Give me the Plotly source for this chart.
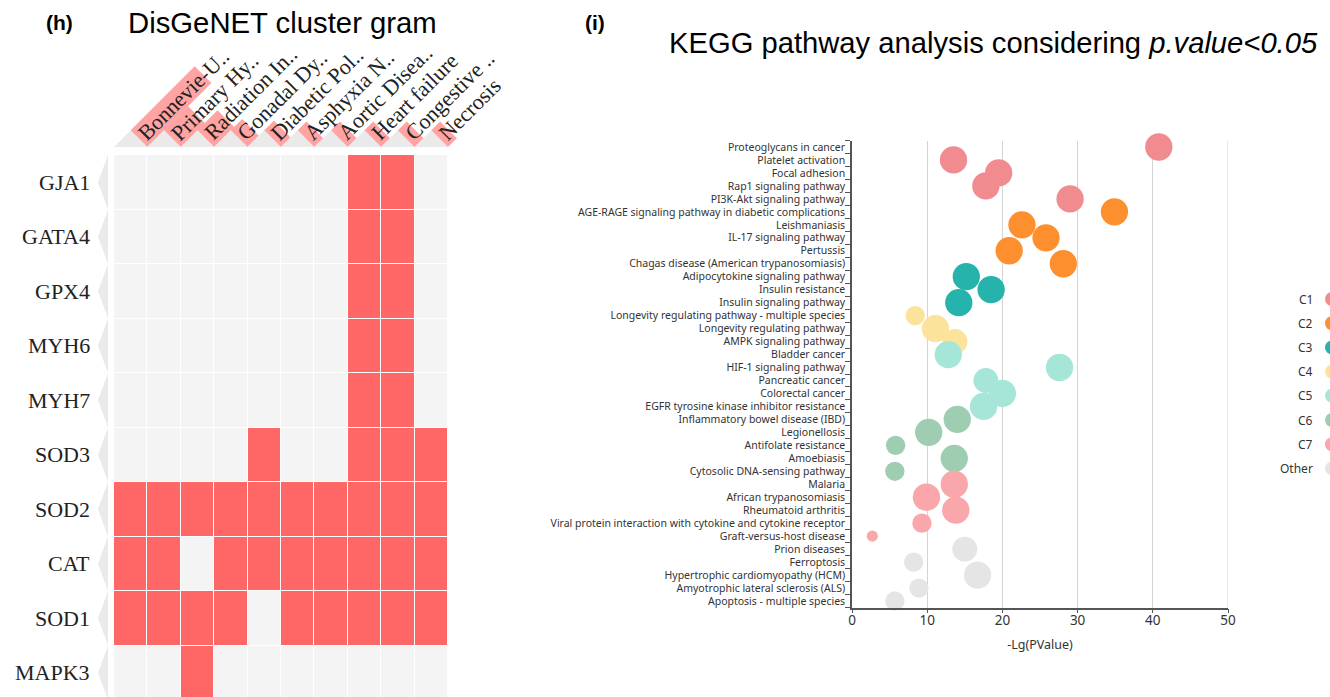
import math
import plotly.graph_objects as go

W, H = 1330, 697


def X(px):
    return px / W


def Y(py):
    return 1 - py / H


# ---------------- Left panel data (DisGeNET cluster gram) ----------------
genes = ["GJA1", "GATA4", "GPX4", "MYH6", "MYH7", "SOD3", "SOD2", "CAT", "SOD1", "MAPK3"]
diseases = ["Bonnevie-U..", "Primary Hy..", "Radiation In..", "Gonadal Dy..", "Diabetic Pol..",
            "Asphyxia N..", "Aortic Disea..", "Heart failure", "Congestive ..", "Necrosis"]
disease_scores = [8.0, 3.0, 2.5, 1.4, 1.2, 1.1, 1.1, 1.1, 1.1, 1.1]
gene_disease = [
    [0, 0, 0, 0, 0, 0, 0, 1, 1, 0],
    [0, 0, 0, 0, 0, 0, 0, 1, 1, 0],
    [0, 0, 0, 0, 0, 0, 0, 1, 1, 0],
    [0, 0, 0, 0, 0, 0, 0, 1, 1, 0],
    [0, 0, 0, 0, 0, 0, 0, 1, 1, 0],
    [0, 0, 0, 0, 1, 0, 0, 1, 1, 1],
    [1, 1, 1, 1, 1, 1, 1, 1, 1, 1],
    [1, 1, 0, 1, 1, 1, 1, 1, 1, 1],
    [1, 1, 1, 1, 0, 1, 1, 1, 1, 1],
    [0, 0, 1, 0, 0, 0, 0, 0, 0, 0],
]

# ---------------- Right panel data (KEGG bubble chart) ----------------
pathways = [
    "Proteoglycans in cancer", "Platelet activation", "Focal adhesion", "Rap1 signaling pathway",
    "PI3K-Akt signaling pathway", "AGE-RAGE signaling pathway in diabetic complications",
    "Leishmaniasis", "IL-17 signaling pathway", "Pertussis", "Chagas disease (American trypanosomiasis)",
    "Adipocytokine signaling pathway", "Insulin resistance", "Insulin signaling pathway",
    "Longevity regulating pathway - multiple species", "Longevity regulating pathway",
    "AMPK signaling pathway", "Bladder cancer", "HIF-1 signaling pathway", "Pancreatic cancer",
    "Colorectal cancer", "EGFR tyrosine kinase inhibitor resistance", "Inflammatory bowel disease (IBD)",
    "Legionellosis", "Antifolate resistance", "Amoebiasis", "Cytosolic DNA-sensing pathway", "Malaria",
    "African trypanosomiasis", "Rheumatoid arthritis",
    "Viral protein interaction with cytokine and cytokine receptor", "Graft-versus-host disease",
    "Prion diseases", "Ferroptosis", "Hypertrophic cardiomyopathy (HCM)",
    "Amyotrophic lateral sclerosis (ALS)", "Apoptosis - multiple species",
]
neg_log_p = [40.8, 13.5, 19.5, 17.8, 29.0, 34.9, 22.6, 25.8, 20.9, 28.1,
             15.2, 18.5, 14.2, 8.4, 11.1, 13.7, 12.8, 27.6, 17.8, 20.0,
             17.5, 14.0, 10.2, 5.8, 13.6, 5.7, 13.6, 9.9, 13.8, 9.3,
             2.7, 15.0, 8.2, 16.7, 8.9, 5.7]
gene_counts = [6, 6, 6, 6, 6, 6, 6, 6, 6, 6,
               6, 6, 6, 3, 6, 5, 6, 6, 5, 6,
               6, 6, 6, 3, 6, 3, 6, 6, 6, 3,
               1, 5, 3, 6, 3, 3]
clusters = ["C1"] * 5 + ["C2"] * 5 + ["C3"] * 3 + ["C4"] * 3 + ["C5"] * 5 + ["C6"] * 5 + ["C7"] * 5 + ["Other"] * 5
cluster_names = ["C1", "C2", "C3", "C4", "C5", "C6", "C7", "Other"]
cluster_colors = ["#f08c90", "#fe8f2f", "#25b3ab", "#fbe39b", "#a5e6d8", "#9fcdb2", "#f9a7ab", "#e5e5e5"]
x_ticks = [0, 10, 20, 30, 40, 50]

fig = go.Figure()

# ---------------- Heatmap ----------------
fig.add_trace(go.Heatmap(
    z=gene_disease, x=list(range(len(diseases))), y=list(range(len(genes))),
    colorscale=[[0, "#f4f4f4"], [1, "#ff6666"]], zmin=0, zmax=1, showscale=False,
    xgap=1, ygap=1, xaxis="x2", yaxis="y2",
    customdata=[[d for d in diseases] for _ in genes],
    text=[[g] * len(diseases) for g in genes],
    hovertemplate="%{text} / %{customdata}<extra></extra>",
))

hm_left, hm_right, hm_top = 114.0, 448.0, 155.0
cw = (hm_right - hm_left) / len(diseases)
rh = 54.5
visible_rows = (H - hm_top) / rh

shapes = []
annotations = []

# row labels and row triangles
for i, g in enumerate(genes):
    yc = hm_top + (i + 0.5) * rh
    annotations.append(dict(x=X(92), y=Y(yc), xref="paper", yref="paper", text=g, showarrow=False,
                            xanchor="right", yanchor="middle",
                            font=dict(family="Liberation Serif", size=22, color="#222")))
    t0, t1 = hm_top + i * rh, hm_top + (i + 1) * rh
    shapes.append(dict(type="path", xref="paper", yref="paper", layer="below",
                       path=f"M {X(108)},{Y(t0)} L {X(108)},{Y(t1)} L {X(98)},{Y(yc)} Z",
                       fillcolor="#eaeaea", line=dict(width=0)))

# column header: triangles, pink bars, rotated labels
yb = 147.0
s2 = math.sqrt(2)
score_px = 8.0  # pixels of diagonal offset per score unit
fs = 22
hbox = 1.2 * fs + 2
for j, d in enumerate(diseases):
    xl = hm_left + j * cw
    xr = xl + cw
    xc = xl + cw / 2
    ax, ay = xc, yb - cw / 2
    bx, by = xr, yb
    shapes.append(dict(type="path", xref="paper", yref="paper", layer="below",
                       path=f"M {X(xl)},{Y(yb)} L {X(xr)},{Y(yb)} L {X(ax)},{Y(ay)} Z",
                       fillcolor="#eaeaea", line=dict(width=0)))
    dd = disease_scores[j] * score_px
    shapes.append(dict(type="path", xref="paper", yref="paper", layer="below",
                       path=(f"M {X(ax)},{Y(ay)} L {X(bx)},{Y(by)} L {X(bx + dd)},{Y(by - dd)} "
                             f"L {X(ax + dd)},{Y(ay - dd)} Z"),
                       fillcolor="rgba(255,102,102,0.6)", line=dict(width=0)))
    mx, my = (ax + bx) / 2, (ay + by) / 2
    s = 1.0
    blx = mx + (hbox / 2) / s2 + s / s2
    bly = my + (hbox / 2) / s2 - s / s2
    tlx = blx - hbox / s2
    annotations.append(dict(x=X(tlx), y=Y(bly), xref="paper", yref="paper", text=d, showarrow=False,
                            xanchor="left", yanchor="bottom", textangle=-45,
                            font=dict(family="Liberation Serif", size=fs, color="#222")))

# ---------------- Bubble chart ----------------
for cname, ccol in zip(cluster_names, cluster_colors):
    idx = [k for k, c in enumerate(clusters) if c == cname]
    fig.add_trace(go.Scatter(
        x=[neg_log_p[k] for k in idx], y=[pathways[k] for k in idx],
        mode="markers", name=cname, showlegend=False, cliponaxis=False,
        marker=dict(size=[gene_counts[k] for k in idx], sizemode="area", sizeref=6 / 19.3 ** 2,
                    color=ccol, line=dict(width=0), opacity=1),
        xaxis="x", yaxis="y",
        hovertemplate="%{y}<br>-Lg(PValue)=%{x}<extra>" + cname + "</extra>",
    ))

# gridline at the right end of the x range
shapes.append(dict(type="line", xref="x", yref="y domain", x0=x_ticks[-1], x1=x_ticks[-1], y0=0, y1=1,
                   line=dict(color="#d4d4d4", width=1), layer="below"))

# custom legend (text left of marker)
leg_y0, leg_dy = 299, 24.2
for k, (cname, ccol) in enumerate(zip(cluster_names, cluster_colors)):
    yy = leg_y0 + k * leg_dy
    annotations.append(dict(x=X(1315), y=Y(yy), xref="paper", yref="paper", text=cname, showarrow=False,
                            xanchor="right", yanchor="middle",
                            font=dict(family="Noto Sans", size=12, color="#333")))
    shapes.append(dict(type="circle", xref="paper", yref="paper", xsizemode="pixel", ysizemode="pixel",
                       xanchor=X(1332), yanchor=Y(yy), x0=-7, x1=7, y0=-7, y1=7,
                       fillcolor=ccol, line=dict(width=0)))

# titles
annotations += [
    dict(x=X(59), y=Y(22), xref="paper", yref="paper", text="<b>(h)</b>", showarrow=False,
         xanchor="center", yanchor="middle", font=dict(family="Liberation Sans", size=21, color="#000")),
    dict(x=X(126), y=Y(23), xref="paper", yref="paper", text="DisGeNET cluster gram", showarrow=False,
         xanchor="left", yanchor="middle", font=dict(family="Liberation Sans", size=29.3, color="#000")),
    dict(x=X(595), y=Y(22), xref="paper", yref="paper", text="<b>(i)</b>", showarrow=False,
         xanchor="center", yanchor="middle", font=dict(family="Liberation Sans", size=21, color="#000")),
    dict(x=X(667), y=Y(43), xref="paper", yref="paper",
         text="KEGG pathway analysis considering <i>p.value&lt;0.05</i>", showarrow=False,
         xanchor="left", yanchor="middle", font=dict(family="Liberation Sans", size=29.2, color="#000")),
]

fig.update_layout(
    width=W, height=H, margin=dict(l=0, r=0, t=0, b=0, autoexpand=False),
    paper_bgcolor="white", plot_bgcolor="white",
    showlegend=False,
    shapes=shapes, annotations=annotations,
    xaxis=dict(domain=[X(852), X(1228)], range=[x_ticks[0], x_ticks[-1]], tickvals=x_ticks,
               showgrid=True, gridcolor="#d4d4d4", gridwidth=1, zeroline=False,
               showline=True, linecolor="#555", linewidth=1.5,
               ticks="outside", ticklen=4, tickcolor="#555", ticklabelstandoff=-4,
               tickfont=dict(family="Noto Sans", size=13.5, color="#333"),
               title=dict(text="-Lg(PValue)", font=dict(family="Noto Sans", size=12.5, color="#333"), standoff=12),
               anchor="y", automargin=False),
    yaxis=dict(domain=[Y(607.5), Y(140.5)], type="category", categoryorder="array", categoryarray=pathways,
               tickmode="array", tickvals=pathways, ticktext=pathways,
               range=[len(pathways) - 0.5, -0.5], showgrid=False, zeroline=False,
               showline=True, linecolor="#555", linewidth=1.5,
               ticks="outside", ticklen=5, tickcolor="#555", tickson="boundaries", ticklabelstandoff=3,
               tickfont=dict(family="Noto Sans", size=10.5, color="#333"), anchor="x", automargin=False),
    xaxis2=dict(domain=[X(hm_left), X(hm_right)], range=[-0.5, len(diseases) - 0.5], visible=False,
                anchor="y2", fixedrange=True, automargin=False),
    yaxis2=dict(domain=[0, Y(hm_top)], range=[-0.5 + visible_rows, -0.5], visible=False,
                anchor="x2", fixedrange=True, automargin=False),
)

fig.write_html("out.html", config={"displayModeBar": False},
               post_script="document.body.style.margin='0px';document.body.style.overflow='hidden';")
